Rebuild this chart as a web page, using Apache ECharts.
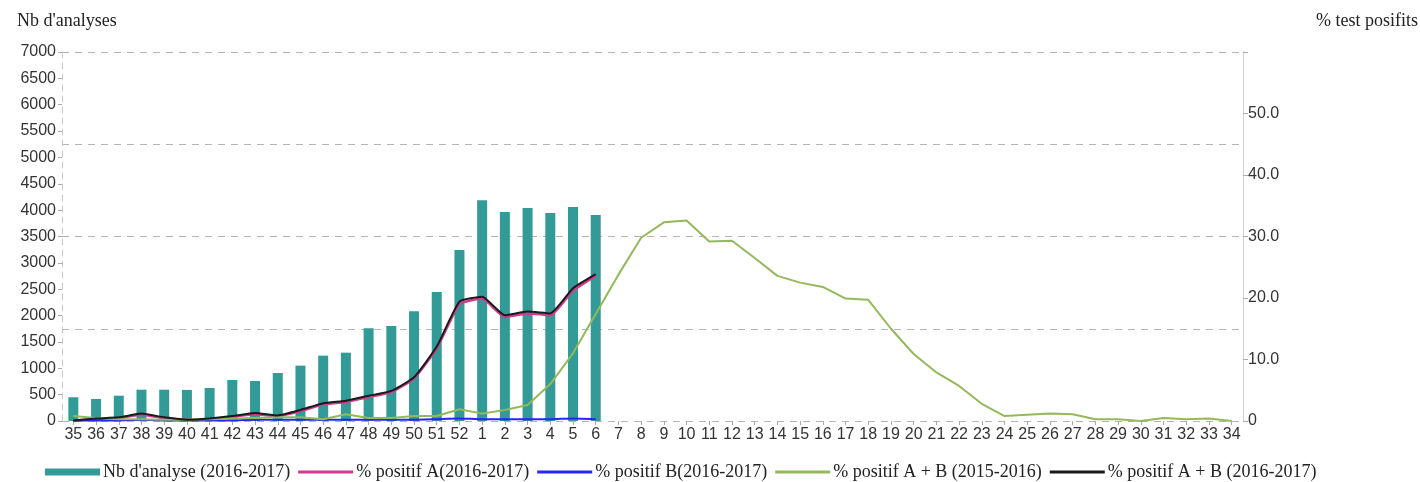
<!DOCTYPE html>
<html><head><meta charset="utf-8">
<script src="https://cdn.jsdelivr.net/npm/echarts@6/dist/echarts.min.js"></script>
<style>html,body{margin:0;padding:0;background:#fff}#c{width:1420px;height:482px}</style>
</head><body><div id="c"></div>
<script>
const weeks = ['35','36','37','38','39','40','41','42','43','44','45','46','47','48','49','50','51','52',
  '1','2','3','4','5','6','7','8','9','10','11','12','13','14','15','16','17','18','19','20','21','22','23','24','25','26','27','28','29','30','31','32','33','34'];
const nbAnalyses = [450,417,480,594,594,590,626,778,759,911,1050,1240,1296,1759,1803,2081,2448,3245,4188,3966,4042,3947,4061,3909];
const posA_1617 = [0.1,0.3,0.5,1.0,0.5,0.2,0.3,0.7,1.1,0.8,1.6,2.7,3.1,3.9,4.7,6.9,11.8,19.0,19.9,16.9,17.5,17.2,21.2,23.6];
const posB_1617 = [0.1,0.1,0.1,0.2,0.1,0.1,0.1,0.1,0.2,0.2,0.2,0.2,0.2,0.2,0.2,0.2,0.3,0.4,0.3,0.3,0.3,0.3,0.4,0.3];
const posAB_1516 = [0.8,0.5,0.3,0.3,0.2,0.2,0.3,0.4,0.5,0.6,0.6,0.3,1.1,0.5,0.5,0.8,0.8,1.9,1.2,1.8,2.6,6.0,11.0,17.4,23.8,29.8,32.3,32.6,29.2,29.3,26.5,23.6,22.5,21.8,19.9,19.7,15.0,10.9,7.9,5.7,2.8,0.8,1.0,1.2,1.1,0.3,0.3,0.0,0.5,0.3,0.4,0.0];
const posAB_1617 = [0.1,0.4,0.6,1.2,0.6,0.2,0.4,0.8,1.3,0.9,1.8,2.9,3.3,4.1,4.9,7.1,12.1,19.4,20.2,17.2,17.8,17.5,21.6,23.9];
const leftTicks = {min:0, max:7000, interval:500};
const rightTicks = {min:0, max:60, interval:10};

const serif = 'Liberation Serif';
const sans = 'Liberation Sans';
const lineIcon = 'path://M0,0H55V3H0Z';
const chart = echarts.init(document.getElementById('c'));
chart.setOption({
  animation: false,
  grid: {left: 62, right: 177, top: 52, bottom: 61},
  graphic: [
    {type:'text', left: 17, top: 12, style:{text:"Nb d'analyses", font:'18px "Liberation Serif"', fill:'#222'}},
    {type:'text', left: 1316, top: 12, style:{text:'% test posifits', font:'18px "Liberation Serif"', fill:'#222'}}
  ],
  legend: {
    left: 40, top: 458, itemGap: 8, itemWidth: 55, itemHeight: 7, symbolKeepAspect: true,
    textStyle: {fontFamily: serif, fontSize: 18, color: '#222', padding:[0,0,0,-2]},
    data: [
      {name:"Nb d'analyse (2016-2017)", icon:'rect'},
      {name:'% positif A(2016-2017)', icon: lineIcon},
      {name:'% positif B(2016-2017)', icon: lineIcon},
      {name:'% positif A + B (2015-2016)', icon: lineIcon},
      {name:'% positif A + B (2016-2017)', icon: lineIcon}
    ]
  },
  xAxis: {
    type: 'category', data: weeks,
    axisLine: {show: false},
    axisTick: {show: true, alignWithLabel: true, length: 4, lineStyle:{color:'#aaa'}},
    axisLabel: {fontFamily: sans, fontSize: 16, color: '#333', margin: 6, interval: 0}
  },
  yAxis: [
    {type:'value', position:'left', min:leftTicks.min, max:leftTicks.max, interval:leftTicks.interval,
     axisLine:{show:true, lineStyle:{color:'#c8c8c8', type:[6,5]}},
     axisTick:{show:true, length:4, lineStyle:{color:'#aaa'}},
     axisLabel:{fontFamily:sans, fontSize:16, color:'#333', margin:6, formatter: v => String(v)},
     splitLine:{show:false}},
    {type:'value', position:'right', min:rightTicks.min, max:rightTicks.max, interval:rightTicks.interval,
     axisLine:{show:true, lineStyle:{color:'#d0d0d0'}},
     axisTick:{show:true, length:5, lineStyle:{color:'#aaa'}},
     axisLabel:{fontFamily:sans, fontSize:16, color:'#333', margin:5,
       formatter: v => v === 0 ? '0' : (v >= 60 ? '' : v.toFixed(1))},
     splitLine:{show:false}},
    {type:'value', position:'left', min:0, max:7000, interval:1750, show:true,
     axisLine:{show:false}, axisTick:{show:false}, axisLabel:{show:false},
     splitLine:{show:true, lineStyle:{color:'#b4b4b4', type:[7,6]}}}
  ],
  series: [
    {name:"Nb d'analyse (2016-2017)", type:'bar', yAxisIndex:0, data:nbAnalyses, barWidth:10,
     itemStyle:{color:'#339b97'}, z:2},
    {name:'% positif A(2016-2017)', type:'line', yAxisIndex:1, data:posA_1617, symbol:'none', smooth:0.15,
     lineStyle:{color:'#d2398f', width:2.5}, itemStyle:{color:'#d2398f'}, z:3},
    {name:'% positif B(2016-2017)', type:'line', yAxisIndex:1, data:posB_1617, symbol:'none', smooth:0.15,
     lineStyle:{color:'#2626f5', width:2}, itemStyle:{color:'#2626f5'}, z:3},
    {name:'% positif A + B (2015-2016)', type:'line', yAxisIndex:1, data:posAB_1516, symbol:'none',
     lineStyle:{color:'#93b95a', width:2}, itemStyle:{color:'#93b95a'}, z:3},
    {name:'% positif A + B (2016-2017)', type:'line', yAxisIndex:1, data:posAB_1617, symbol:'none', smooth:0.15,
     lineStyle:{color:'#1a1a1a', width:2}, itemStyle:{color:'#1a1a1a'}, z:4}
  ]
});
</script></body></html>
